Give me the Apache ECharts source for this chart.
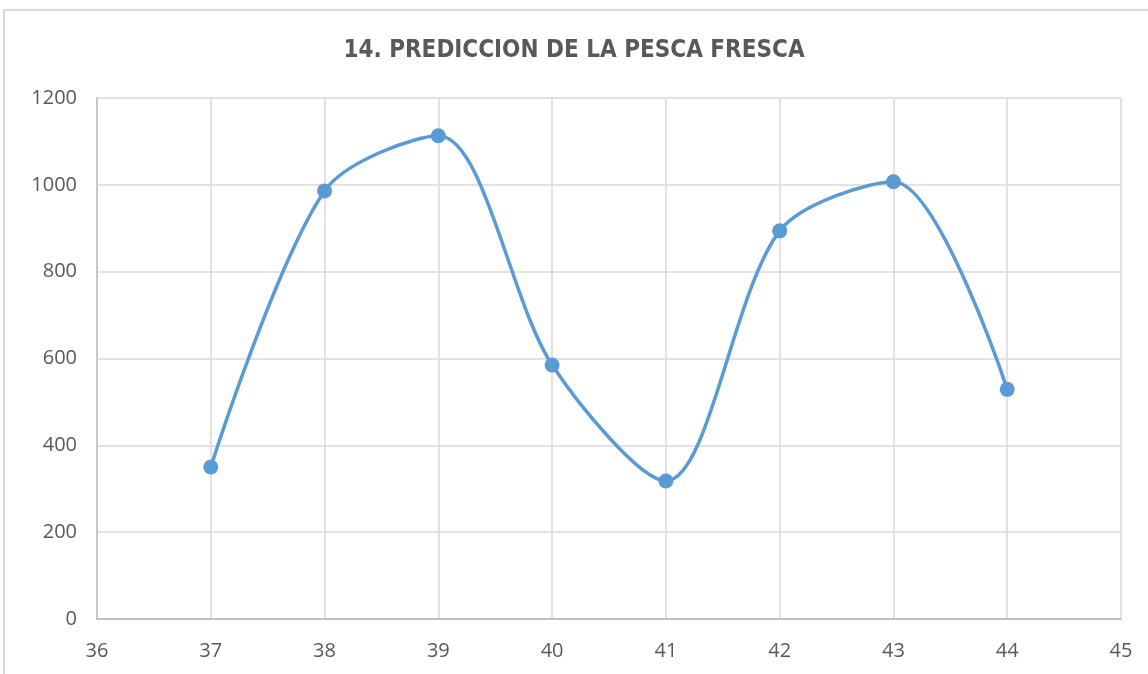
<!DOCTYPE html>
<html>
<head>
<meta charset="utf-8">
<script src="https://cdn.jsdelivr.net/npm/echarts@6/dist/echarts.min.js"></script>
<style>
html,body{margin:0;padding:0;background:#fff;}
#chart{width:1148px;height:674px;}
</style>
</head>
<body>
<div id="chart"></div>
<script>
const titleText = '14. PREDICCION DE LA PESCA FRESCA';
const weeks = [37, 38, 39, 40, 41, 42, 43, 44];
const catch_ = [350, 986, 1113, 585, 318, 894, 1007, 529];

const chart = echarts.init(document.getElementById('chart'), null, {renderer: 'canvas'});
const labelFont = {color: '#595959', fontSize: 20, fontFamily: 'Open Sans'};
chart.setOption({
  animation: false,
  graphic: [{
    type: 'rect', z: -1,
    shape: {x: 4, y: 10, width: 1200, height: 720},
    style: {fill: 'none', stroke: '#d9d9d9', lineWidth: 2}
  }],
  title: {
    text: titleText, left: 'center', top: 34,
    textStyle: {color: '#595959', fontSize: 24, fontWeight: 'bold', fontFamily: "'DejaVu Sans Condensed', 'Liberation Sans', sans-serif"}
  },
  grid: {left: 97, right: 27, top: 98, bottom: 55},
  xAxis: {
    type: 'value', min: 36, max: 45, interval: 1,
    axisLine: {show: true, lineStyle: {color: '#bfbfbf', width: 2}},
    axisTick: {show: false},
    splitLine: {show: true, lineStyle: {color: '#d9d9d9', width: 1.5}},
    axisLabel: Object.assign({margin: 22}, labelFont)
  },
  yAxis: {
    type: 'value', min: 0, max: 1200, interval: 200,
    axisLine: {show: true, lineStyle: {color: '#bfbfbf', width: 1.5}},
    axisTick: {show: false},
    splitLine: {show: true, lineStyle: {color: '#d9d9d9', width: 1.5}},
    axisLabel: Object.assign({margin: 20, formatter: v => String(v)}, labelFont)
  },
  series: [{
    type: 'line',
    data: weeks.map((w, i) => [w, catch_[i]]),
    smooth: 0.3,
    symbol: 'circle', symbolSize: 15,
    lineStyle: {color: '#5b9bd5', width: 3.5},
    itemStyle: {color: '#5b9bd5'}
  }]
});
</script>
</body>
</html>
